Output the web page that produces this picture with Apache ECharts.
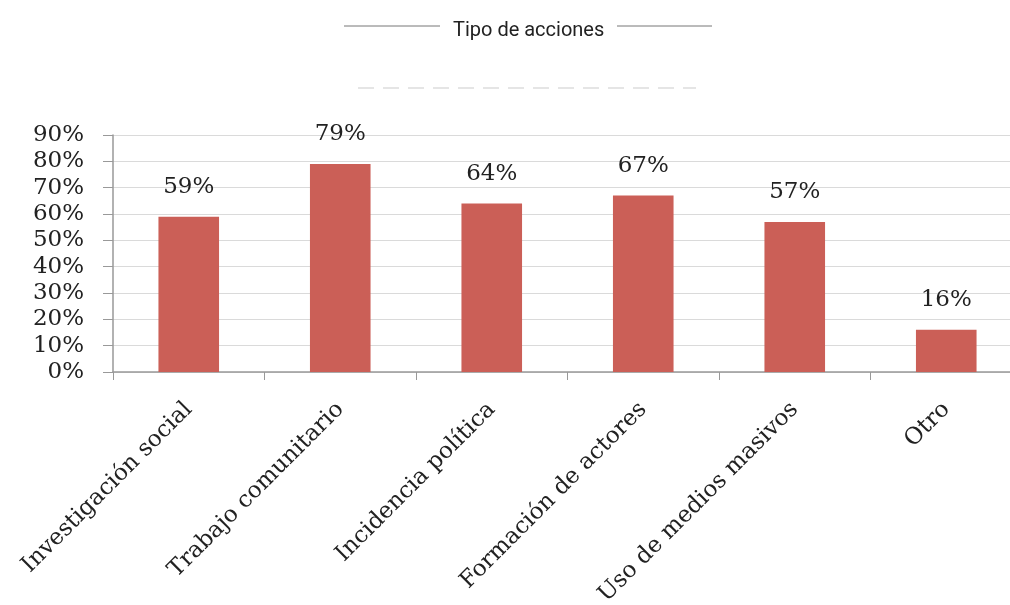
<!DOCTYPE html>
<html>
<head>
<meta charset="utf-8">
<title>Tipo de acciones</title>
<script src="https://cdn.jsdelivr.net/npm/echarts@6/dist/echarts.min.js"></script>
<style>
  html, body { margin: 0; padding: 0; background: #fff; }
  #chart { width: 1010px; height: 605px; }
</style>
</head>
<body>
<div id="chart"></div>
<script>
// categorias y porcentajes
const categories = [
  'Investigación social',
  'Trabajo comunitario',
  'Incidencia política',
  'Formación de actores',
  'Uso de medios masivos',
  'Otro'
];
const percentages = [59, 79, 64, 67, 57, 16];
const yTicks = [0, 10, 20, 30, 40, 50, 60, 70, 80, 90];

const serif = '"DejaVu Serif", "Liberation Serif", serif';
const chart = echarts.init(document.getElementById('chart'));

const options = {
  animation: false,
  backgroundColor: '#fff',
  title: {
    text: 'Tipo de acciones',
    left: 448,
    top: 16,
    textStyle: {
      fontFamily: 'Roboto, sans-serif',
      fontWeight: 'normal',
      fontSize: 20,
      color: '#222'
    }
  },
  graphic: [
    { type: 'line', shape: { x1: 344, y1: 26, x2: 440, y2: 26 }, style: { stroke: '#777', lineWidth: 1 } },
    { type: 'line', shape: { x1: 617, y1: 26, x2: 712, y2: 26 }, style: { stroke: '#777', lineWidth: 1 } },
    // texto fantasma casi cortado bajo el titulo
    { type: 'line', shape: { x1: 358, y1: 88, x2: 696, y2: 88 }, style: { stroke: '#dddddd', lineWidth: 1.5, lineDash: [16, 9] } }
  ],
  grid: {
    left: 113,
    top: 135,
    width: 909,
    height: 237,
    outerBoundsMode: 'none'
  },
  xAxis: {
    type: 'category',
    data: categories,
    axisLine: { lineStyle: { color: '#999', width: 1.5 } },
    axisTick: { show: true, length: 8, alignWithLabel: false, lineStyle: { color: '#999' } },
    axisLabel: {
      rotate: 45,
      margin: 34,
      fontFamily: serif,
      fontSize: 23,
      color: '#222'
    }
  },
  yAxis: {
    type: 'value',
    min: yTicks[0],
    max: yTicks[yTicks.length - 1],
    interval: 10,
    axisLine: { show: true, lineStyle: { color: '#999', width: 1.5 } },
    axisTick: { show: true, length: 10, lineStyle: { color: '#999' } },
    splitLine: { lineStyle: { color: '#dadada', width: 1 } },
    axisLabel: {
      margin: 29,
      fontFamily: serif,
      fontSize: 23,
      color: '#222',
      formatter: v => v + '%'
    }
  },
  series: [{
    type: 'bar',
    data: percentages,
    barWidth: '40%',
    itemStyle: { color: '#cb5f57' },
    label: {
      show: true,
      position: 'top',
      distance: 18,
      fontFamily: serif,
      fontSize: 23,
      color: '#222',
      formatter: p => p.value + '%'
    }
  }]
};

chart.setOption(options);
</script>
</body>
</html>
